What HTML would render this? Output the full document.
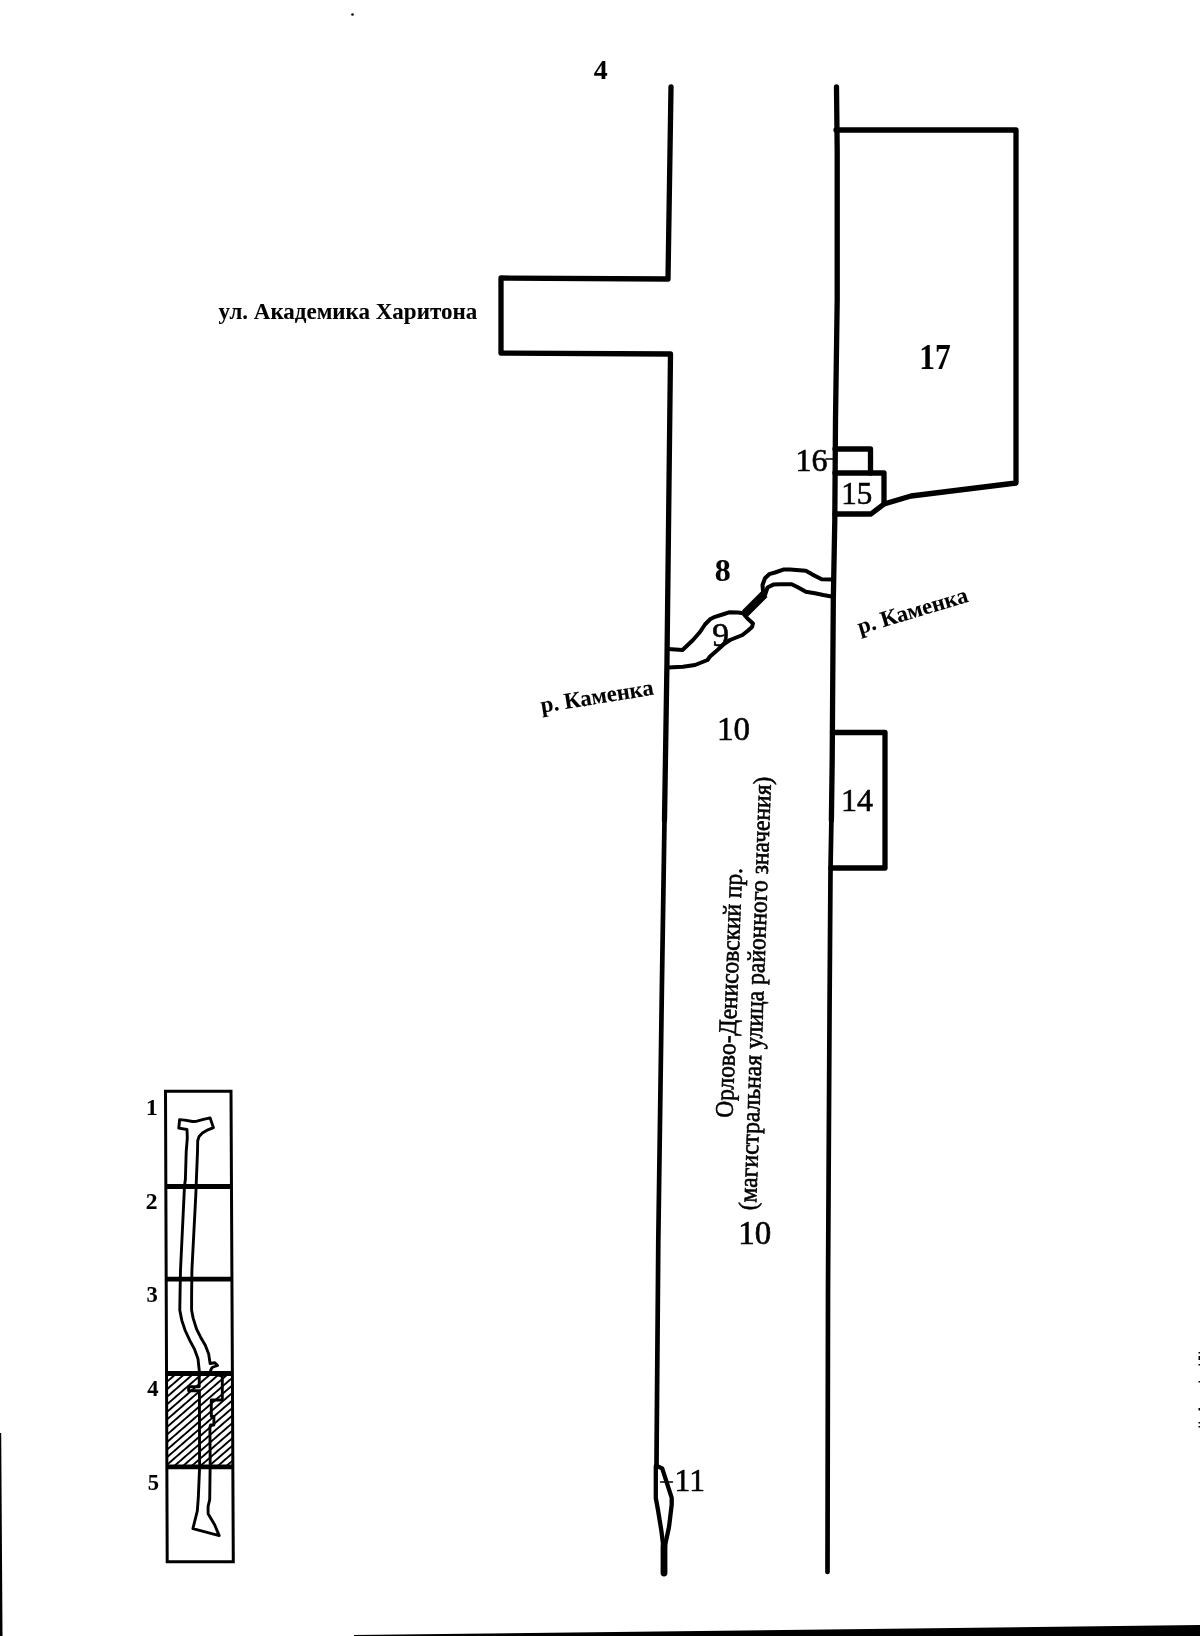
<!DOCTYPE html>
<html><head><meta charset="utf-8">
<style>
html,body{margin:0;padding:0;background:#fff;}
body{width:1200px;height:1636px;overflow:hidden;position:relative;}
svg{position:absolute;left:0;top:0;will-change:transform;}
text{font-family:"Liberation Serif",serif;fill:#000;stroke:#000;stroke-width:0.6;}
.b{stroke-width:0.1;}
.b{font-weight:bold;}
</style></head><body>
<svg width="1200" height="1636" viewBox="0 0 1200 1636">
<defs>
<pattern id="hatch" patternUnits="userSpaceOnUse" width="10" height="5.7" patternTransform="rotate(-41)">
<rect x="0" y="0" width="10" height="1.9" fill="#000"/>
</pattern>
<clipPath id="hclip"><polygon points="167,1375 232,1375 232.5,1465 167.5,1465"/></clipPath>
</defs>
<g fill="none" stroke="#000" stroke-width="5.3" stroke-linejoin="round" stroke-linecap="round">
<polyline points="671,87 668,279 501,278 501,353 670.5,354 667,660 664.5,820"/>
<polyline points="664.5,820 662,980 658.3,1240 656.6,1450 656.5,1467" stroke-width="4.7"/>
<polyline points="836.5,87 837.2,150 837.2,300 835.5,420 834.8,520 833.3,600 832.6,700 832.2,760 831.4,820"/>
<polyline points="831.4,820 830.5,870 829.6,1000 828.6,1180 828,1290 827.5,1572" stroke-width="4.7"/>
<polyline points="836,130 1016,130 1016,483 911,496 884,504"/>
<polyline points="835,449 870.5,449 870.5,473"/>
<polyline points="835,473 884,473 884,504 871,514 835,514"/>
<polyline points="832.5,732.5 885,732.5 885,868 831,868"/>
</g>
<g fill="none" stroke="#000" stroke-width="4.3" stroke-linejoin="round" stroke-linecap="round">
<polyline points="656.7,1466 662.2,1468.4 671.7,1497.9 671.7,1504.7 669,1527 664.5,1548"/>
<polyline points="655.8,1466 655.8,1498 658,1510 661.4,1531 663.5,1548"/>
<polyline points="664,1546 664,1573" stroke-width="6.8"/>
<line x1="660.5" y1="1482" x2="672.5" y2="1482" stroke-width="1.5"/>
<line x1="826" y1="459" x2="835" y2="459" stroke-width="1.5"/>
</g>
<g fill="none" stroke="#000" stroke-width="4" stroke-linejoin="round" stroke-linecap="round">
<path d="M668,649 L682.5,650 L693,640 L700,632 L705,624.5 L710,619.3 L715,616.8 L722.5,614.5 L729,612.3 L738,612.5 L743,613.3 L747.5,618.5 L753,623.5 L752,627 L747.5,631 L742.5,635 L735,638 L730,640 L724,644 L717.5,650 L710,656.5 L707.5,660 L695,665 L683,666.7 L668,667.5"/>
<path d="M745,613.5 L764.5,594" stroke-width="8.5" stroke-linecap="butt"/>
<path d="M763,591 L762.5,585 L765,578.3 L769.2,574.2 L775,572.5 L783.3,569.6 L790,569.6 L805.8,570.8 L812.5,574.6 L821.7,579.2 L833,579.6"/>
<path d="M765,595 L767.5,587.5 L773.3,584.6 L780,584.2 L791.7,584.2 L798.3,587.5 L805.8,591.7 L815,593.3 L823.3,595 L833,596.7"/>
</g>
<text class="b" x="593.7" y="78.7" font-size="27.7">4</text>
<text class="b" x="218.5" y="318.75" font-size="23">ул. Академика Харитона</text>
<text class="b" font-size="36" transform="translate(921.7,368.7) scale(0.873,1)" x="-2.9">17</text>
<text x="795.5" y="471.4" font-size="32">16</text>
<text x="841.2" y="504.2" font-size="31">15</text>
<text class="b" x="714.8" y="580.7" font-size="32">8</text>
<text x="712.3" y="646" font-size="33.5">9</text>
<text x="717" y="740.1" font-size="33">10</text>
<text x="841.1" y="810.8" font-size="32">14</text>
<text x="738.3" y="1244.3" font-size="33">10</text>
<text x="674.6" y="1491" font-size="31.5">11</text>
<text class="b" font-size="22.7" transform="translate(541.7,712.8) rotate(-9.2)">р. Каменка</text>
<text class="b" font-size="22.7" transform="translate(860,634.2) rotate(-16.6)">р. Каменка</text>
<text font-size="25.5" transform="translate(732.5,1118) rotate(-87.8) scale(0.92,1)">Орлово-Денисовский пр.</text>
<text font-size="25.5" transform="translate(756,1210.5) rotate(-88) scale(0.926,1)">(магистральная улица районного значения)</text>
<!-- inset -->
<rect x="160" y="1370" width="80" height="100" fill="url(#hatch)" clip-path="url(#hclip)"/>
<g fill="none" stroke="#000" stroke-width="3" stroke-linejoin="miter">
<polygon points="165.5,1091.2 231,1091.2 233.3,1561.8 167.2,1561.8"/>
</g>
<g stroke="#000" stroke-width="4.8">
<line x1="165" y1="1186.5" x2="231.5" y2="1186.5"/>
<line x1="165.3" y1="1279.1" x2="231.8" y2="1279.1"/>
<line x1="165.8" y1="1373.5" x2="232.2" y2="1373.5"/>
<line x1="166.3" y1="1466.8" x2="232.6" y2="1466.8"/>
</g>
<g fill="none" stroke="#000" stroke-width="2.9" stroke-linejoin="round" stroke-linecap="round">
<polyline points="195.8,1195 196.4,1179.3 197.5,1151.8 197.7,1140.8 199.1,1136.4 202.4,1133 207.9,1129.8 213.4,1127.6 210.1,1117.9 203.5,1119.3 196.9,1121.2 192.5,1121.5 184.8,1120.1 179.6,1119.6 178.8,1128.1 187,1129.5 187.3,1138 186.2,1151.8 185.4,1179.3 184.5,1186 180.5,1270 180.1,1290.2 179.8,1310.3 181.8,1320.4 185.2,1330.5 189.9,1340.6 194.6,1349.4 198,1358.8 199.3,1370.9 199.2,1386.8 188.6,1386.8 188.6,1390.8 199.4,1390.8 199.6,1467 199,1481.5 198.3,1497.6 197.3,1511 192.9,1528.6 219.2,1535.6 214.5,1524.5 208.1,1513.8 208.1,1506.4 209.7,1499.7 210.1,1469.4 210.2,1467 209.9,1427.5 210.6,1425 213.9,1425 213.9,1416.5 211.3,1416.5 211.3,1400 222.3,1400 222.3,1376 210.7,1373 210.7,1370.2 212.1,1367.5 217.5,1365.5 214.8,1362.8 210.1,1363.5 208.7,1354.1 205.3,1345.3 200.6,1337.2 196.6,1329.2 193.2,1318.4 191.6,1310.3 191.6,1296.9 191.9,1270 195.8,1195"/>
</g>
<text class="b" x="146" y="1115" font-size="23.5">1</text>
<text class="b" x="145.8" y="1209" font-size="23.5">2</text>
<text class="b" x="146.5" y="1301.8" font-size="22.5">3</text>
<text class="b" x="147.2" y="1396.3" font-size="22.5">4</text>
<text class="b" x="147.8" y="1489.6" font-size="22.5">5</text>
<circle cx="352.5" cy="14.5" r="1.3" fill="#000"/>
<polygon points="354,1636 354,1635 1200,1625 1200,1636" fill="#000"/>
<polygon points="0,1433 1.2,1433 2.5,1636 0,1636" fill="#000"/>
<g fill="#000"><rect x="1198.5" y="1352" width="1.5" height="1.5"/><rect x="1198.5" y="1356" width="1.5" height="4"/><rect x="1198.5" y="1364" width="1.5" height="1.5"/><rect x="1198.5" y="1381" width="1.5" height="1.5"/><rect x="1198.5" y="1408" width="1.5" height="2.5"/><rect x="1198.5" y="1422" width="1.5" height="1.5"/><rect x="1198.5" y="1426" width="1.5" height="1.5"/></g>
</svg>
</body></html>
